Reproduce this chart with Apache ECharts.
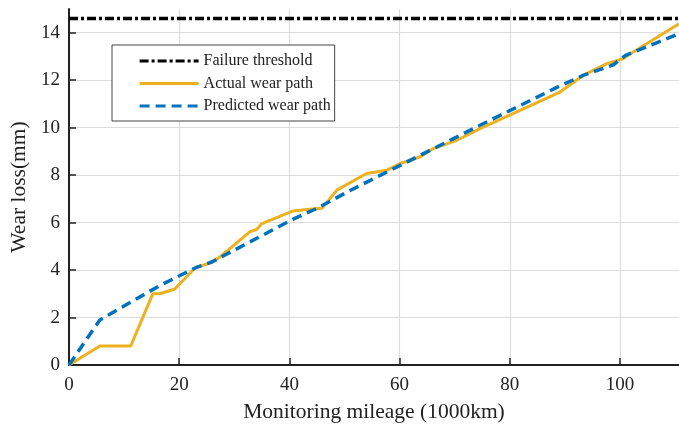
<!DOCTYPE html>
<html>
<head>
<meta charset="utf-8">
<script src="https://cdn.jsdelivr.net/npm/echarts@6/dist/echarts.min.js"></script>
<style>
  html, body { margin: 0; padding: 0; background: #fff; }
  #chart { width: 679px; height: 428px; }
</style>
</head>
<body>
<div id="chart"></div>
<script>
// mileage (1000km) / wear loss (mm)
const actualX = [0, 5.6, 11.2, 15.2, 16.5, 19.2, 22.9, 25.9, 27.4, 32.8, 34.1, 35, 40.7, 43.1, 45.9, 48.6, 54, 57.7, 60.1, 63.7, 66.1, 70.4, 74.6, 89.1, 93.3, 97.6, 100.6, 102.4, 110.7]
const actualY = [0, 0.8, 0.8, 3.0, 3.0, 3.2, 4.1, 4.32, 4.56, 5.61, 5.72, 5.96, 6.49, 6.55, 6.6, 7.37, 8.07, 8.21, 8.49, 8.77, 9.12, 9.47, 9.96, 11.5, 12.2, 12.7, 12.91, 13.19, 14.38]

const predX = [0, 5.6, 16.5, 23, 26, 40.7, 45, 51, 60, 66, 74.6, 89, 93.3, 98.8, 101, 110.7]
const predY = [0, 1.9, 3.35, 4.1, 4.35, 6.15, 6.6, 7.35, 8.4, 9.1, 10.1, 11.75, 12.2, 12.65, 13.05, 13.96]

const thresholdX = [0, 110.7]
const thresholdY = [14.6, 14.6]

const xTicks = [0, 20, 40, 60, 80, 100]
const yTicks = [0, 2, 4, 6, 8, 10, 12, 14]
const xMax = 110.7
const yMax = 15

const font = '"Liberation Serif", "Times New Roman", serif'
const pairs = (xs, ys) => xs.map((x, i) => [x, ys[i]])

const chart = echarts.init(document.getElementById('chart'), null, { renderer: 'canvas' })

chart.setOption({
  animation: false,
  backgroundColor: '#fff',
  textStyle: { fontFamily: font },
  grid: { left: 69, right: 0, top: 9, bottom: 63 },
  legend: {
    orient: 'vertical',
    left: 112,
    top: 45,
    padding: [8, 4, 7, 26],
    itemWidth: 59,
    itemHeight: 14,
    itemGap: 6.5,
    // line series legend always adds a marker, hide it and keep only the line
    itemStyle: { opacity: 0 },
    lineStyle: { width: 3.2 },
    backgroundColor: '#fff',
    borderColor: '#444',
    borderWidth: 1,
    borderRadius: 0,
    textStyle: { fontFamily: font, fontSize: 16, color: '#222' },
    data: ['Failure threshold', 'Actual wear path', 'Predicted wear path']
  },
  xAxis: {
    type: 'value',
    min: 0,
    max: xMax,
    name: 'Monitoring mileage (1000km)',
    nameLocation: 'middle',
    nameGap: 36,
    nameTextStyle: { fontFamily: font, fontSize: 21.5, color: '#222', verticalAlign: 'top' },
    axisLine: { lineStyle: { color: '#222', width: 2 } },
    axisTick: { inside: true, length: 7, customValues: xTicks, lineStyle: { color: '#222', width: 1.5 } },
    axisLabel: { customValues: xTicks, margin: 11, fontSize: 19, color: '#222', fontFamily: font },
    splitLine: { show: true, lineStyle: { color: '#dcdcdc', width: 1.2 } }
  },
  yAxis: {
    type: 'value',
    min: 0,
    max: yMax,
    name: 'Wear loss(mm)',
    nameLocation: 'middle',
    nameGap: 36,
    nameTextStyle: { fontFamily: font, fontSize: 21.5, color: '#222' },
    axisLine: { show: true, lineStyle: { color: '#222', width: 2 } },
    axisTick: { show: true, inside: true, length: 7, customValues: yTicks, lineStyle: { color: '#222', width: 1.5 } },
    axisLabel: { customValues: yTicks, margin: 9, fontSize: 19, color: '#222', fontFamily: font },
    splitLine: { show: true, lineStyle: { color: '#dcdcdc', width: 1.2 } }
  },
  series: [
    {
      name: 'Failure threshold',
      type: 'line',
      data: pairs(thresholdX, thresholdY),
      symbol: 'none',
      lineStyle: { color: '#000', width: 3.5, type: [9, 3, 3, 3] },
      itemStyle: { color: '#000' },
      z: 2
    },
    {
      name: 'Actual wear path',
      type: 'line',
      data: pairs(actualX, actualY),
      symbol: 'none',
      lineStyle: { color: '#EDB120', width: 3 },
      itemStyle: { color: '#EDB120' },
      z: 3
    },
    {
      name: 'Predicted wear path',
      type: 'line',
      data: pairs(predX, predY),
      symbol: 'none',
      lineStyle: { color: '#0072BD', width: 3.5, type: [10, 6] },
      itemStyle: { color: '#0072BD' },
      z: 4
    }
  ]
})
</script>
</body>
</html>
